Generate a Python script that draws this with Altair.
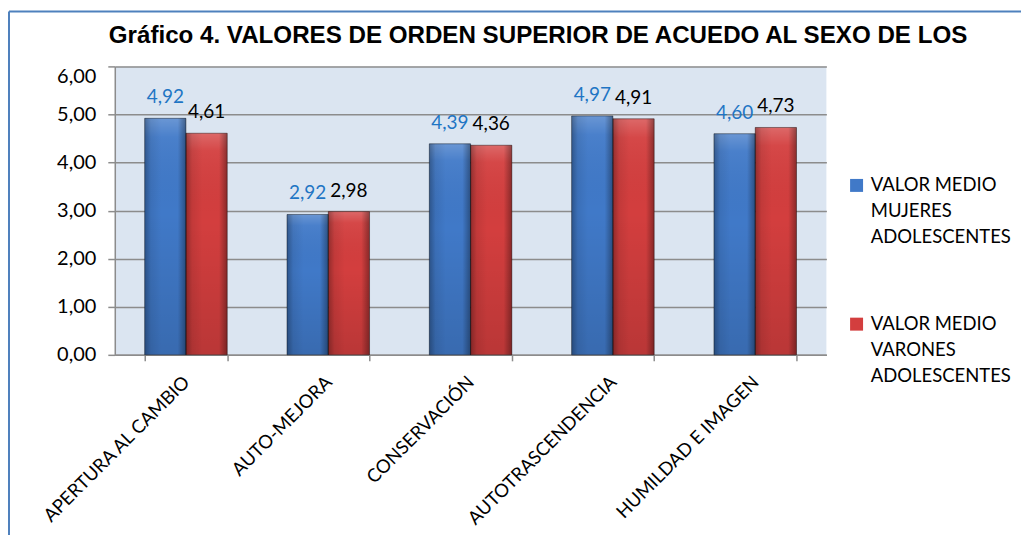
import altair as alt
import pandas as pd

categories = ["APERTURA AL CAMBIO", "AUTO-MEJORA", "CONSERVACIÓN", "AUTOTRASCENDENCIA", "HUMILDAD E IMAGEN"]
series_names = ["VALOR MEDIO MUJERES ADOLESCENTES", "VALOR MEDIO VARONES ADOLESCENTES"]
mujeres = [4.92, 2.92, 4.39, 4.97, 4.60]
varones = [4.61, 2.98, 4.36, 4.91, 4.73]
y_ticks = [0, 1, 2, 3, 4, 5, 6]
title_text = "Gráfico 4. VALORES DE ORDEN SUPERIOR DE ACUEDO AL SEXO DE LOS"

rows = []
for i, c in enumerate(categories):
    rows.append({"cat": c, "serie": series_names[0], "valor": mujeres[i]})
    rows.append({"cat": c, "serie": series_names[1], "valor": varones[i]})
df = pd.DataFrame(rows)

W, H = 713, 289
FONT = "Lato"
GRAY = "#8c8c8c"

x_enc = alt.X(
    "cat:N", sort=categories,
    scale=alt.Scale(paddingInner=0.42, paddingOuter=0.21),
    axis=alt.Axis(title=None, labelAngle=-45, labelAlign="right", labelBaseline="middle",
                  labelFontSize=18.5, labelFont=FONT, labelColor="black", labelPadding=18,
                  tickBand="extent", tickSize=6, tickColor=GRAY, tickWidth=1.5,
                  domainColor=GRAY, domainWidth=1.5, grid=False, labelLimit=0),
)
xo = alt.XOffset("serie:N", sort=series_names)
y_enc = alt.Y(
    "valor:Q",
    scale=alt.Scale(domain=[0, 6], nice=False),
    axis=alt.Axis(title=None, values=y_ticks,
                  labelExpr="replace(format(datum.value, '.2f'), '.', ',')",
                  labelFont=FONT, labelFontSize=20, labelColor="black", labelPadding=12,
                  labelBaseline={"condition": {"test": "datum.value == 6", "value": "top"}, "value": "middle"},
                  tickSize=7, tickColor=GRAY, tickWidth=1.5,
                  domainColor=GRAY, domainWidth=1.5,
                  grid=True, gridColor=GRAY, gridWidth=1.5),
)

color_enc = alt.Color(
    "serie:N",
    scale=alt.Scale(domain=series_names, range=["#4079c8", "#d33e3e"]),
    legend=alt.Legend(
        title=None, orient="none", legendX=734, legendY=110,
        labelExpr="split(replace(replace(datum.label, 'MEDIO ', 'MEDIO|'), ' ADOL', '|ADOL'), '|')",
        labelFont=FONT, labelFontSize=18.5, labelColor="black",
        symbolType="square", symbolSize=169, symbolStrokeWidth=0,
        labelOffset=5, padding=0, labelLimit=0, rowPadding=68,
    ),
)

base = alt.Chart(df)

bars = base.mark_bar().encode(x=x_enc, xOffset=xo, y=y_enc, color=color_enc)

vshade = base.mark_bar(
    fill=alt.Gradient(
        gradient="linear", x1=0, x2=0, y1=0, y2=1,
        stops=[
            alt.GradientStop(color="rgba(255,255,255,0.22)", offset=0),
            alt.GradientStop(color="rgba(255,255,255,0.05)", offset=0.08),
            alt.GradientStop(color="rgba(0,0,0,0)", offset=0.4),
            alt.GradientStop(color="rgba(0,0,0,0.12)", offset=1),
        ],
    ),
).encode(x=x_enc, xOffset=xo, y=y_enc)

hshade = base.mark_bar(
    fill=alt.Gradient(
        gradient="linear", x1=0, x2=1, y1=0, y2=0,
        stops=[
            alt.GradientStop(color="rgba(0,0,0,0.30)", offset=0),
            alt.GradientStop(color="rgba(0,0,0,0.08)", offset=0.15),
            alt.GradientStop(color="rgba(0,0,0,0)", offset=0.4),
            alt.GradientStop(color="rgba(0,0,0,0)", offset=0.8),
            alt.GradientStop(color="rgba(0,0,0,0.35)", offset=1),
        ],
    ),
    stroke="rgba(0,0,0,0.5)", strokeWidth=0.8,
).encode(x=x_enc, xOffset=xo, y=y_enc)

labels = base.transform_calculate(
    label="replace(format(datum.valor, '.2f'), '.', ',')"
).mark_text(font=FONT, fontSize=19, baseline="alphabetic", dy=-15).encode(
    x=x_enc, xOffset=xo, y=y_enc, text="label:N",
    color=alt.condition(alt.datum.serie == series_names[0], alt.value("#1f75c4"), alt.value("black")),
)

frame_df = pd.DataFrame({"k": [0]})
top_border = alt.Chart(frame_df).mark_rule(color="#4f81bd", strokeWidth=2).encode(
    x=alt.value(-106), x2=alt.value(W + 400), y=alt.value(-55))
left_border = alt.Chart(frame_df).mark_rule(color="#4f81bd", strokeWidth=2).encode(
    x=alt.value(-106), y=alt.value(-55), y2=alt.value(H + 400))

chart = alt.layer(top_border, left_border, bars, vshade, hshade, labels).properties(
    width=W, height=H,
    title=alt.TitleParams(text=title_text, font="Liberation Sans", fontSize=24.2, fontWeight="bold",
                          color="black", anchor="start", frame="group", dx=-6, offset=-38),
    padding={"left": 107, "top": 58, "right": 195, "bottom": 180},
    autosize=alt.AutoSizeParams(type="none"),
).configure(
    style={"guide-label": {"lineHeight": 26}}
).configure_view(fill="#dbe5f1", strokeWidth=0)

chart.save("out.html", embed_options={"renderer": "svg", "actions": False})
